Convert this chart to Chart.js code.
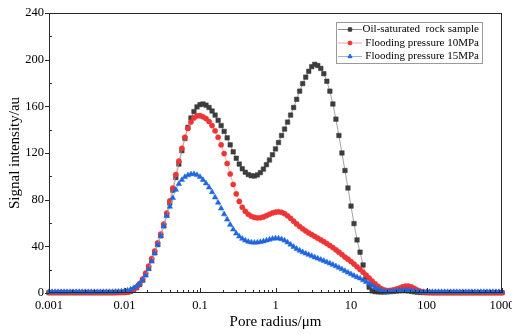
<!DOCTYPE html>
<html>
<head>
<meta charset="utf-8">
<script src="https://cdn.jsdelivr.net/npm/chart.js@4.4.1/dist/chart.umd.min.js"></script>
<style>
  html, body { margin: 0; padding: 0; background: #fff; overflow: hidden; }
  canvas { display: block; }
</style>
</head>
<body>
<canvas id="chart" width="512" height="335"></canvas>
<script>
// pore radius (µm), 25 points per decade
const poreRadius = [
  0.001, 0.001096, 0.001202, 0.001318, 0.001445, 0.001585, 0.001738, 0.001905, 0.002089, 0.002291, 0.002512, 0.002754, 0.00302, 0.003311, 0.003631, 0.003981, 0.004365, 0.004786, 0.005248, 0.005754, 0.00631, 0.006918, 0.007586, 0.008318, 0.00912,
  0.01, 0.01096, 0.01202, 0.01318, 0.01445, 0.01585, 0.01738, 0.01905, 0.02089, 0.02291, 0.02512, 0.02754, 0.0302, 0.03311, 0.03631, 0.03981, 0.04365, 0.04786, 0.05248, 0.05754, 0.0631, 0.06918, 0.07586, 0.08318, 0.0912,
  0.1, 0.1096, 0.1202, 0.1318, 0.1445, 0.1585, 0.1738, 0.1905, 0.2089, 0.2291, 0.2512, 0.2754, 0.302, 0.3311, 0.3631, 0.3981, 0.4365, 0.4786, 0.5248, 0.5754, 0.631, 0.6918, 0.7586, 0.8318, 0.912,
  1, 1.096, 1.202, 1.318, 1.445, 1.585, 1.738, 1.905, 2.089, 2.291, 2.512, 2.754, 3.02, 3.311, 3.631, 3.981, 4.365, 4.786, 5.248, 5.754, 6.31, 6.918, 7.586, 8.318, 9.12,
  10, 10.96, 12.02, 13.18, 14.45, 15.85, 17.38, 19.05, 20.89, 22.91, 25.12, 27.54, 30.2, 33.11, 36.31, 39.81, 43.65, 47.86, 52.48, 57.54, 63.1, 69.18, 75.86, 83.18, 91.2,
  100, 109.6, 120.2, 131.8, 144.5, 158.5, 173.8, 190.5, 208.9, 229.1, 251.2, 275.4, 302, 331.1, 363.1, 398.1, 436.5, 478.6, 524.8, 575.4, 631, 691.8, 758.6, 831.8, 912,
  1000
];

const oilSaturated = [
  0.3, 0.3, 0.3, 0.3, 0.3, 0.3, 0.3, 0.3, 0.3, 0.3, 0.3, 0.3, 0.3, 0.3, 0.3, 0.3, 0.3, 0.3, 0.3, 0.3, 0.3, 0.3, 0.35, 0.4, 0.45,
  0.5, 0.8, 1.3, 2.6, 4.5, 7.2, 11, 15.8, 21.5, 28, 34.5, 41.5, 49, 57.5, 67, 77, 88, 99, 110.5, 122, 132.5, 142, 150, 155.5, 159.5,
  161.5, 162, 161, 159, 156, 152.5, 148, 143.5, 138.5, 133, 127, 121, 115.5, 110.5, 106.5, 103.5, 101.5, 100.5, 100.3, 101.2, 103.2, 106.2, 110, 114, 118.5,
  123.5, 129, 135, 140.5, 146.5, 152.5, 159, 166, 173, 179.5, 185, 190, 194, 196, 195, 192.5, 188, 181.5, 173, 162, 149, 135, 120, 105, 90,
  74.5, 59.5, 45.5, 35, 24, 13.5, 5, 1.8, 1.2, 1.0, 0.9, 0.9, 1.0, 1.2, 1.4, 1.7, 1.9, 2.0, 2.0, 1.8, 1.4, 1.0, 0.7, 0.5, 0.4,
  0.3, 0.3, 0.3, 0.3, 0.3, 0.3, 0.3, 0.3, 0.3, 0.3, 0.3, 0.3, 0.3, 0.3, 0.3, 0.3, 0.3, 0.3, 0.3, 0.3, 0.3, 0.3, 0.3, 0.3, 0.3,
  0.3
];

const flooding10 = [
  0.4, 0.4, 0.4, 0.4, 0.4, 0.4, 0.4, 0.4, 0.4, 0.4, 0.4, 0.4, 0.4, 0.4, 0.4, 0.4, 0.4, 0.4, 0.4, 0.4, 0.4, 0.4, 0.4, 0.45, 0.45,
  0.5, 0.8, 1.5, 3, 5, 8, 12, 17, 23, 29.5, 36, 43, 50.5, 59, 68.5, 79, 90, 101.5, 113, 124, 133.5, 141, 146.5, 150, 151.8,
  152, 151, 149.5, 147, 143.5, 139, 133.5, 127, 119.5, 111, 102, 93, 85, 78.5, 73.5, 70, 67.5, 65.8, 64.8, 64.4, 64.5, 65.2, 66.3, 67.5, 68.6,
  69.3, 69.6, 69.2, 68, 66.2, 64, 61.6, 59.2, 57, 55, 53.2, 51.5, 50, 48.5, 47, 45.5, 44, 42.4, 40.7, 38.9, 37, 35, 33, 30.8, 29,
  27, 24.8, 22.5, 20.2, 17.8, 15.3, 12.8, 10.2, 7.8, 5.6, 3.8, 2.6, 2.1, 2.2, 2.7, 3.4, 4.2, 5.2, 5.9, 5.9, 5.2, 3.9, 2.5, 1.4, 0.8,
  0.5, 0.4, 0.3, 0.3, 0.3, 0.3, 0.3, 0.3, 0.3, 0.3, 0.3, 0.3, 0.3, 0.3, 0.3, 0.3, 0.3, 0.3, 0.3, 0.3, 0.3, 0.3, 0.3, 0.3, 0.3,
  0.3
];

const flooding15 = [
  0.9, 0.9, 0.9, 0.9, 0.9, 0.9, 0.9, 0.9, 0.9, 0.9, 0.9, 0.9, 0.9, 0.9, 0.9, 0.9, 0.9, 0.9, 0.9, 0.9, 1.0, 1.0, 1.1, 1.2, 1.4,
  1.7, 2.2, 3.0, 4.2, 5.8, 8, 11, 15, 20.5, 27, 34, 41.5, 49, 57.5, 66, 74, 81.5, 88.5, 93.5, 97, 99.5, 101, 101.8, 102, 101.2,
  99.5, 97, 94, 90.5, 86.5, 82, 77.5, 72.5, 67.5, 63, 58.5, 54.5, 51, 48.5, 46.5, 45, 44, 43.4, 43.2, 43.3, 43.7, 44.3, 45, 45.8, 46.5,
  46.9, 46.8, 46.2, 45, 43.4, 41.5, 39.6, 37.9, 36.4, 35.1, 33.9, 32.8, 31.7, 30.6, 29.6, 28.6, 27.6, 26.5, 25.4, 24.2, 23, 21.7, 20.4, 19, 17.6,
  16.2, 14.8, 13.6, 12.5, 11, 9.5, 8, 6.3, 4.6, 3.2, 2.1, 1.4, 1.2, 1.3, 1.5, 1.8, 2.1, 2.3, 2.4, 2.3, 2.0, 1.6, 1.2, 1.0, 0.9,
  0.9, 0.9, 0.9, 0.9, 0.9, 0.9, 0.9, 0.9, 0.9, 0.9, 0.9, 0.9, 0.9, 0.9, 0.9, 0.9, 0.9, 0.9, 0.9, 0.9, 0.9, 0.9, 0.9, 0.9, 0.9,
  0.9
];

const seriesNames = ["Oil-saturated  rock sample", "Flooding pressure 10MPa", "Flooding pressure 15MPa"];
const xTicks = [0.001, 0.01, 0.1, 1, 10, 100, 1000];
const xTickLabels = ["0.001", "0.01", "0.1", "1", "10", "100", "1000"];
const yTicks = [0, 40, 80, 120, 160, 200, 240];

const SERIF = "'Liberation Serif', 'Times New Roman', serif";
const styles = [
  { color: "#3d3d3d", line: "#8c8c8c", point: "rect", radius: 3.2 },
  { color: "#ee3535", line: "#f4a3a3", point: "circle", radius: 2.6 },
  { color: "#1f66dd", line: "#93b6ea", point: "triangle", radius: 3.2 },
];

const toPoints = (vals) => poreRadius.map((r, i) => ({ x: r, y: vals[i] }));

// frame, inner/outer tick marks and the boxed legend
const decorations = {
  id: "decorations",
  afterDraw(chart) {
    const { ctx, chartArea: a, scales: { x, y } } = chart;
    ctx.save();
    ctx.strokeStyle = "#2a2a2a";
    ctx.lineWidth = 1;
    ctx.strokeRect(a.left + 0.5, a.top + 0.5, a.right - a.left - 1, a.bottom - a.top - 1);

    ctx.beginPath();
    xTicks.forEach((v, i) => {
      const px = Math.round(x.getPixelForValue(v)) + 0.5;
      ctx.moveTo(px, a.bottom);
      ctx.lineTo(px, a.bottom - 5);
      if (i < xTicks.length - 1) {
        for (let m = 2; m <= 9; m++) {
          const mx = Math.round(x.getPixelForValue(v * m)) + 0.5;
          ctx.moveTo(mx, a.bottom);
          ctx.lineTo(mx, a.bottom - 3);
        }
      }
    });
    yTicks.forEach((v, i) => {
      const py = Math.round(y.getPixelForValue(v)) + 0.5;
      ctx.moveTo(a.left, py);
      ctx.lineTo(a.left - 4, py);
      if (i < yTicks.length - 1) {
        const my = Math.round(y.getPixelForValue(v + 20)) + 0.5;
        ctx.moveTo(a.left, my);
        ctx.lineTo(a.left + 3, my);
      }
    });
    ctx.stroke();

    // legend
    ctx.fillStyle = "#fff";
    ctx.fillRect(336, 22, 146, 41);
    ctx.strokeStyle = "#9a9a9a";
    ctx.strokeRect(336.5, 22.5, 146, 41);
    ctx.font = "11px " + SERIF;
    ctx.textAlign = "right";
    ctx.textBaseline = "middle";
    seriesNames.forEach((name, i) => {
      const ly = 29 + i * 13.5;
      const s = styles[i];
      ctx.strokeStyle = s.line;
      ctx.lineWidth = 1;
      ctx.beginPath();
      ctx.moveTo(338, ly + 0.5);
      ctx.lineTo(362, ly + 0.5);
      ctx.stroke();
      ctx.fillStyle = s.color;
      ctx.strokeStyle = s.color;
      Chart.helpers.drawPoint(ctx, { pointStyle: s.point, radius: s.radius * 0.75, rotation: 0, borderWidth: 0.5 }, 350, ly + 0.5);
      ctx.fillStyle = "#000";
      ctx.fillText(name, 479, ly + 0.5);
    });
    ctx.restore();
  },
};

new Chart(document.getElementById("chart"), {
  type: "line",
  data: {
    datasets: [oilSaturated, flooding10, flooding15].map((vals, i) => ({
      label: seriesNames[i],
      data: toPoints(vals),
      borderColor: styles[i].line,
      borderWidth: 0.8,
      backgroundColor: styles[i].color,
      pointBackgroundColor: styles[i].color,
      pointBorderColor: styles[i].color,
      pointBorderWidth: 0.5,
      pointStyle: styles[i].point,
      pointRadius: styles[i].radius,
      tension: 0,
      fill: false,
      clip: false,
      order: 3 - i,
    })),
  },
  options: {
    responsive: false,
    animation: false,
    layout: { padding: { left: 0, right: 10, top: 13, bottom: 0 } },
    plugins: { legend: { display: false }, tooltip: { enabled: false } },
    scales: {
      x: {
        type: "logarithmic",
        min: 0.001,
        max: 1000,
        grid: { display: false, drawTicks: false },
        border: { display: false },
        afterBuildTicks: (scale) => { scale.ticks = xTicks.map((v) => ({ value: v })); },
        afterFit: (scale) => { scale.height = 42; scale.paddingLeft = 0; scale.paddingRight = 0; },
        ticks: {
          autoSkip: false,
          maxRotation: 0,
          padding: 5,
          color: "#000",
          font: { family: SERIF, size: 12.5 },
          callback: (v, i) => xTickLabels[i],
        },
        title: {
          display: true,
          text: "Pore radius/μm",
          color: "#000",
          font: { family: SERIF, size: 15, lineHeight: 1.2 },
          padding: { top: 0, bottom: 4 },
        },
      },
      y: {
        min: 0,
        max: 240,
        grid: { display: false, drawTicks: false },
        border: { display: false },
        afterBuildTicks: (scale) => { scale.ticks = yTicks.map((v) => ({ value: v })); },
        afterFit: (scale) => { scale.width = 49; scale.paddingTop = 0; scale.paddingBottom = 0; },
        ticks: {
          padding: 5,
          color: "#000",
          font: { family: SERIF, size: 12.5 },
        },
        title: {
          display: true,
          text: "Signal intensity/au",
          color: "#000",
          font: { family: SERIF, size: 15, lineHeight: 1.2 },
          padding: { top: 6, bottom: 0 },
        },
      },
    },
  },
  plugins: [decorations],
});
</script>
</body>
</html>
